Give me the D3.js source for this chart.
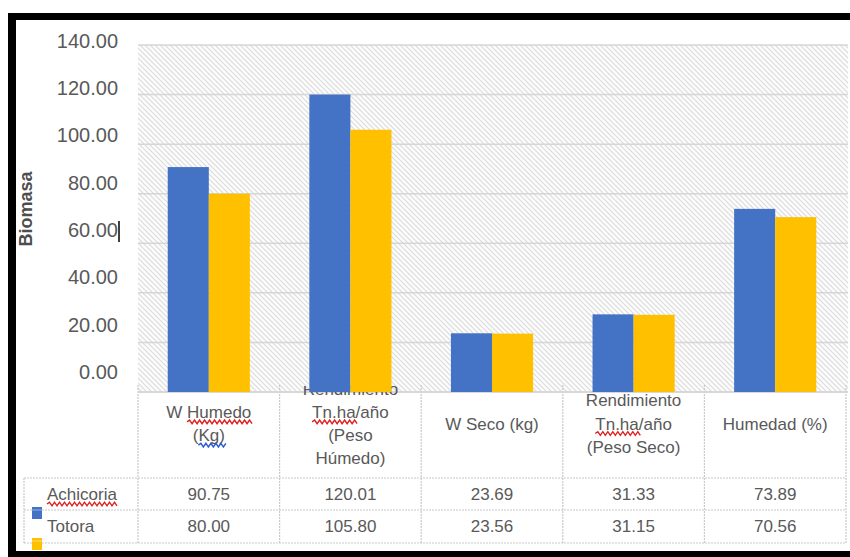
<!DOCTYPE html>
<html>
<head>
<meta charset="utf-8">
<script src="https://cdn.jsdelivr.net/npm/d3@7"></script>
<style>
  html, body { margin: 0; padding: 0; background: #fff; }
  svg { display: block; }
  text { font-family: "Liberation Sans", Arial, sans-serif; }
</style>
</head>
<body>
<div id="chart"></div>
<script>
// ---------- data ----------
const categories = ["W Humedo (Kg)", "Rendimiento Tn.ha/año (Peso Húmedo)", "W Seco (kg)", "Rendimiento Tn.ha/año (Peso Seco)", "Humedad (%)"];
const categoryLines = [
  ["W Humedo", "(Kg)"],
  ["Rendimiento", "Tn.ha/año", "(Peso", "Húmedo)"],
  ["W Seco (kg)"],
  ["Rendimiento", "Tn.ha/año", "(Peso Seco)"],
  ["Humedad (%)"]
];
const seriesNames = ["Achicoria", "Totora"];
const achicoria = [90.75, 120.01, 23.69, 31.33, 73.89];
const totora = [80.00, 105.80, 23.56, 31.15, 70.56];
const yTicks = [0, 20, 40, 60, 80, 100, 120, 140];
const colors = ["#4472C4", "#FFC000"];
const yTitle = "Biomasa";

const W = 850, H = 557;
const svg = d3.select("#chart").append("svg").attr("width", W).attr("height", H);

// layout
const plot = { left: 138, right: 846, top: 45, bottom: 392 };
const table = { legendLeft: 24, headerTop: 385, row1: 478, row2: 510, row3: 543 };
const textGray = "#595959";
const lineGray = "#c9c9c9";

// scales
const x0 = d3.scaleBand().domain(categories).range([plot.left, plot.right]).paddingInner(0.42).paddingOuter(0.21);
const x1 = d3.scaleBand().domain(seriesNames).range([0, x0.bandwidth()]);
const y = d3.scaleLinear().domain([0, 140]).range([plot.bottom, plot.top]);
const yLabel = d3.scaleLinear().domain([0, 140]).range([372, 40.8]);
const colStep = x0.step();
const colLeft = c => x0(c) - x0.paddingOuter() * colStep;

// hatch pattern
const defs = svg.append("defs");
const pat = defs.append("pattern").attr("id", "hatch").attr("patternUnits", "userSpaceOnUse")
  .attr("width", 5).attr("height", 5);
pat.append("rect").attr("width", 5).attr("height", 5).attr("fill", "#fcfcfc");
pat.append("path").attr("d", "M0,0 L5,5 M-1,4 L1,6 M4,-1 L6,1")
  .attr("stroke", "#dcdcdc").attr("stroke-width", 1.2);

defs.append("clipPath").attr("id", "headClip").append("rect")
  .attr("x", 0).attr("y", 386).attr("width", W).attr("height", 200);

// plot background
svg.append("rect").attr("x", plot.left).attr("y", plot.top)
  .attr("width", plot.right + 2 - plot.left).attr("height", plot.bottom - plot.top)
  .attr("fill", "url(#hatch)");

// gridlines
svg.append("g").selectAll("line").data(yTicks).join("line")
  .attr("x1", plot.left).attr("x2", plot.right + 2)
  .attr("y1", d => y(d)).attr("y2", d => y(d))
  .attr("stroke", "#d6d6d6").attr("stroke-width", 1.5);

// y tick labels via axis
const yAxis = d3.axisLeft(yLabel).tickValues(yTicks).tickFormat(d3.format(".2f")).tickSize(0).tickPadding(0);
const gy = svg.append("g").attr("transform", "translate(118,0)").call(yAxis);
gy.select(".domain").remove();
gy.selectAll("text").attr("fill", textGray).style("font-size", "20px")
  .style("font-family", "'Liberation Sans', Arial, sans-serif");

// text cursor after 60.00
svg.append("line").attr("x1", 119).attr("x2", 119).attr("y1", yLabel(60) - 9).attr("y2", yLabel(60) + 12)
  .attr("stroke", "#000").attr("stroke-width", 1.5);

// y title
svg.append("text").attr("transform", "translate(32,209) rotate(-90)")
  .attr("text-anchor", "middle").attr("fill", "#4d4d4d")
  .style("font-size", "18px").style("font-weight", "bold").text(yTitle);

// table lines (header verticals)
const header = svg.append("g");
const boundaries = categories.map(colLeft).concat([plot.right]);
header.selectAll("line.v").data(boundaries).join("line").attr("class", "v")
  .attr("x1", d => d).attr("x2", d => d)
  .attr("y1", table.headerTop).attr("y2", table.row3)
  .attr("stroke", lineGray).attr("stroke-width", 1.2).attr("stroke-dasharray", "2,1");
[table.row1, table.row2, table.row3].forEach(yy => {
  header.append("line").attr("x1", table.legendLeft).attr("x2", plot.right)
    .attr("y1", yy).attr("y2", yy)
    .attr("stroke", lineGray).attr("stroke-width", 1.2).attr("stroke-dasharray", "2,1");
});
header.append("line").attr("x1", table.legendLeft).attr("x2", table.legendLeft)
  .attr("y1", table.row1).attr("y2", table.row3)
  .attr("stroke", lineGray).attr("stroke-width", 1.2).attr("stroke-dasharray", "2,1");

// axis line
svg.append("line").attr("x1", plot.left).attr("x2", plot.right + 2)
  .attr("y1", plot.bottom).attr("y2", plot.bottom).attr("stroke", "#d6d6d6").attr("stroke-width", 1.5);

// category header text
const lh = 23.3, headCenter = 423.5;
const headG = svg.append("g").attr("clip-path", "url(#headClip)");
const headTexts = [];
categories.forEach((c, i) => {
  const lines = categoryLines[i];
  const cx = x0(c) + x0.bandwidth() / 2;
  const start = headCenter - (lines.length - 1) * lh / 2;
  const arr = [];
  lines.forEach((ln, j) => {
    const t = headG.append("text").attr("x", cx).attr("y", start + j * lh + 6)
      .attr("text-anchor", "middle").attr("fill", textGray).style("font-size", "17px").text(ln);
    arr.push(t);
  });
  headTexts.push(arr);
});

// bars
const values = [achicoria, totora];
const barG = svg.append("g");
categories.forEach((c, i) => {
  seriesNames.forEach((s, k) => {
    barG.append("rect")
      .attr("x", x0(c) + x1(s)).attr("width", x1.bandwidth())
      .attr("y", y(values[k][i])).attr("height", y(0) - y(values[k][i]))
      .attr("fill", colors[k]);
  });
});

// data rows
const rowCenters = [494, 525.5];
seriesNames.forEach((s, k) => {
  svg.append("text").attr("x", 47).attr("y", rowCenters[k] + 6).attr("fill", textGray)
    .style("font-size", "17px").text(s);
  categories.forEach((c, i) => {
    svg.append("text").attr("x", x0(c) + x0.bandwidth() / 2).attr("y", rowCenters[k] + 6)
      .attr("text-anchor", "middle").attr("fill", textGray).style("font-size", "17px")
      .text(d3.format(".2f")(values[k][i]));
  });
});

// legend markers
const markerY = [507, 538];
seriesNames.forEach((s, k) => {
  svg.append("rect").attr("x", 32).attr("y", markerY[k]).attr("width", 10).attr("height", 12).attr("fill", colors[k]);
  svg.append("line").attr("x1", 32).attr("x2", 42).attr("y1", markerY[k] + 3).attr("y2", markerY[k] + 3)
    .attr("stroke", "#fff").attr("stroke-opacity", 0.45).attr("stroke-width", 1);
});

// spell-check squiggles
function squiggle(textSel, startIdx, n, color) {
  const node = textSel.node();
  const x1p = node.getStartPositionOfChar(startIdx).x;
  const w = node.getSubStringLength(startIdx, n);
  const yy = +textSel.attr("y") + 4;
  let d = `M${x1p},${yy}`;
  for (let xx = x1p, up = true; xx < x1p + w; xx += 2.5, up = !up) d += ` L${xx + 2.5},${yy + (up ? -1.8 : 1.8)}`;
  svg.append("path").attr("d", d).attr("fill", "none").attr("stroke", color).attr("stroke-width", 1.4);
}
squiggle(headTexts[0][0], 2, 6, "#e02020");
squiggle(headTexts[0][1], 1, 3, "#2a5bd7");
squiggle(headTexts[1][1], 0, 5, "#e02020");
squiggle(headTexts[3][1], 0, 5, "#e02020");
const achText = svg.selectAll("text").filter(function () { return d3.select(this).text() === "Achicoria"; });
squiggle(achText, 0, 9, "#e02020");

// black frame
svg.append("rect").attr("x", 8).attr("y", 13).attr("width", W - 8).attr("height", 7).attr("fill", "#000");
svg.append("rect").attr("x", 8).attr("y", 13).attr("width", 8).attr("height", H - 13).attr("fill", "#000");
svg.append("rect").attr("x", 8).attr("y", 551).attr("width", W - 8).attr("height", 6).attr("fill", "#000");
</script>
</body>
</html>
